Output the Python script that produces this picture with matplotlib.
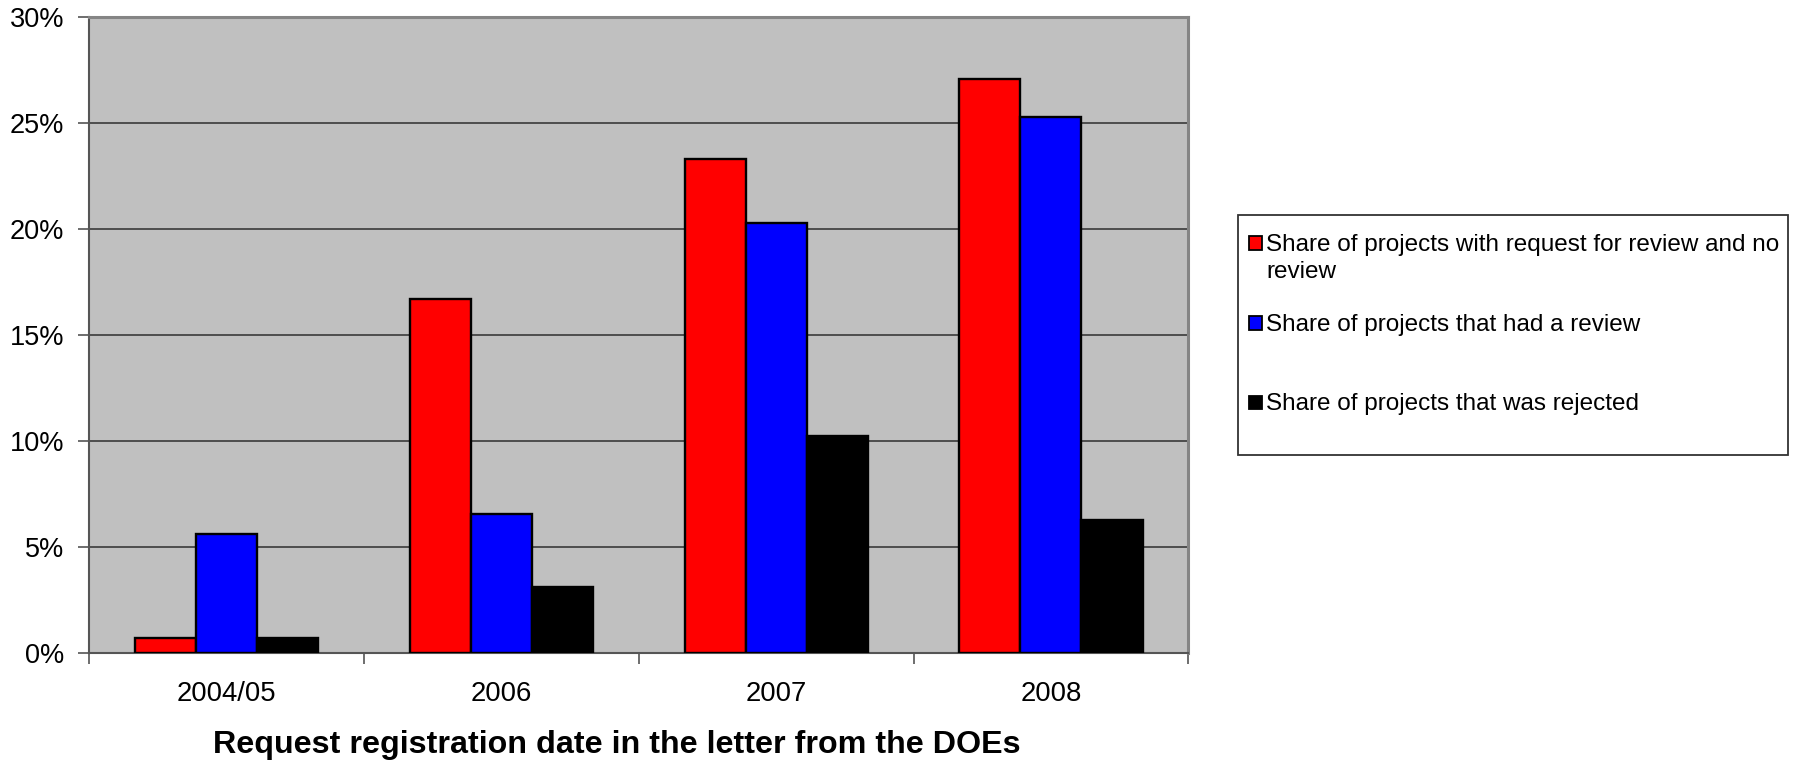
import matplotlib
matplotlib.use("Agg")
import matplotlib.pyplot as plt
from matplotlib.patches import Rectangle
from matplotlib.ticker import PercentFormatter
import numpy as np

plt.rcParams['font.family'] = ['Liberation Sans', 'DejaVu Sans']

categories = ["2004/05", "2006", "2007", "2008"]
series_names = [
    ["Share of projects with request for review and no", "review"],
    ["Share of projects that had a review"],
    ["Share of projects that was rejected"],
]
no_review = [0.7, 16.7, 23.3, 27.1]
had_review = [5.65, 6.55, 20.3, 25.3]
rejected = [0.7, 3.15, 10.25, 6.3]
series_values = [no_review, had_review, rejected]
colors = ["#FF0000", "#0000FF", "#000000"]

W, H = 1800, 762
fig = plt.figure(figsize=(W / 100, H / 100), dpi=100)
ax = fig.add_axes([89.3 / W, 1 - 653.3 / H, (1188.3 - 89.3) / W, (653.3 - 17.3) / H])
ax.set_facecolor("#C0C0C0")

x = np.arange(len(categories))
bw = 2 / 9
for i, (vals, c) in enumerate(zip(series_values, colors)):
    ax.bar(x + (i - 1) * bw, vals, width=bw, color=c, edgecolor="black",
           linewidth=1.7, zorder=3)

ax.set_xlim(-0.5, len(categories) - 0.5)
ax.set_ylim(0, 30)
ax.set_yticks(np.arange(0, 31, 5))
ax.yaxis.set_major_formatter(PercentFormatter(decimals=0))
ax.grid(axis="y", color="#2e2e2e", linewidth=1.1, zorder=1)
ax.set_axisbelow(True)

# category boundary ticks and centered labels
ax.set_xticks(np.arange(len(categories) + 1) - 0.5)
ax.set_xticklabels([])
ax.set_xticks(x, categories, minor=True)
ax.tick_params(axis="x", which="major", length=8, width=1.2, color="#555555", direction="out")
ax.tick_params(axis="x", which="minor", length=0, pad=20, labelsize=19.8)
ax.tick_params(axis="y", length=8, width=1.2, color="#555555", pad=10, labelsize=19.5)

for s in ["left", "bottom"]:
    ax.spines[s].set_color("#555555")
    ax.spines[s].set_linewidth(1.5)
for s in ["top", "right"]:
    ax.spines[s].set_color("#858585")
    ax.spines[s].set_linewidth(2.2)

fig.text(617 / W, 1 - 752.7 / H,
         "Request registration date in the letter from the DOEs",
         ha="center", va="baseline", fontsize=23.2, fontweight="bold")

# legend (drawn in figure pixel coordinates)
def fx(px):
    return px / W

def fy(py):
    return 1 - py / H

fig.patches.append(Rectangle((fx(1238.3), fy(455)), fx(1788) - fx(1238.3), fy(215) - fy(455),
                             transform=fig.transFigure, facecolor="white",
                             edgecolor="#333333", linewidth=1.3, zorder=1))
baselines = [250.7, 330.7, 410.0]
line_step = 27.6
for lines, c, b in zip(series_names, colors, baselines):
    fig.patches.append(Rectangle((fx(1248.5), fy(b - 1)), fx(13.5), 13.5 / H,
                                 transform=fig.transFigure, facecolor=c,
                                 edgecolor="black", linewidth=1.3, zorder=2))
    for k, line in enumerate(lines):
        fig.text(fx(1266), fy(b + k * line_step), line, ha="left", va="baseline",
                 fontsize=17.5, zorder=3)

fig.savefig("out.png", dpi=100)
